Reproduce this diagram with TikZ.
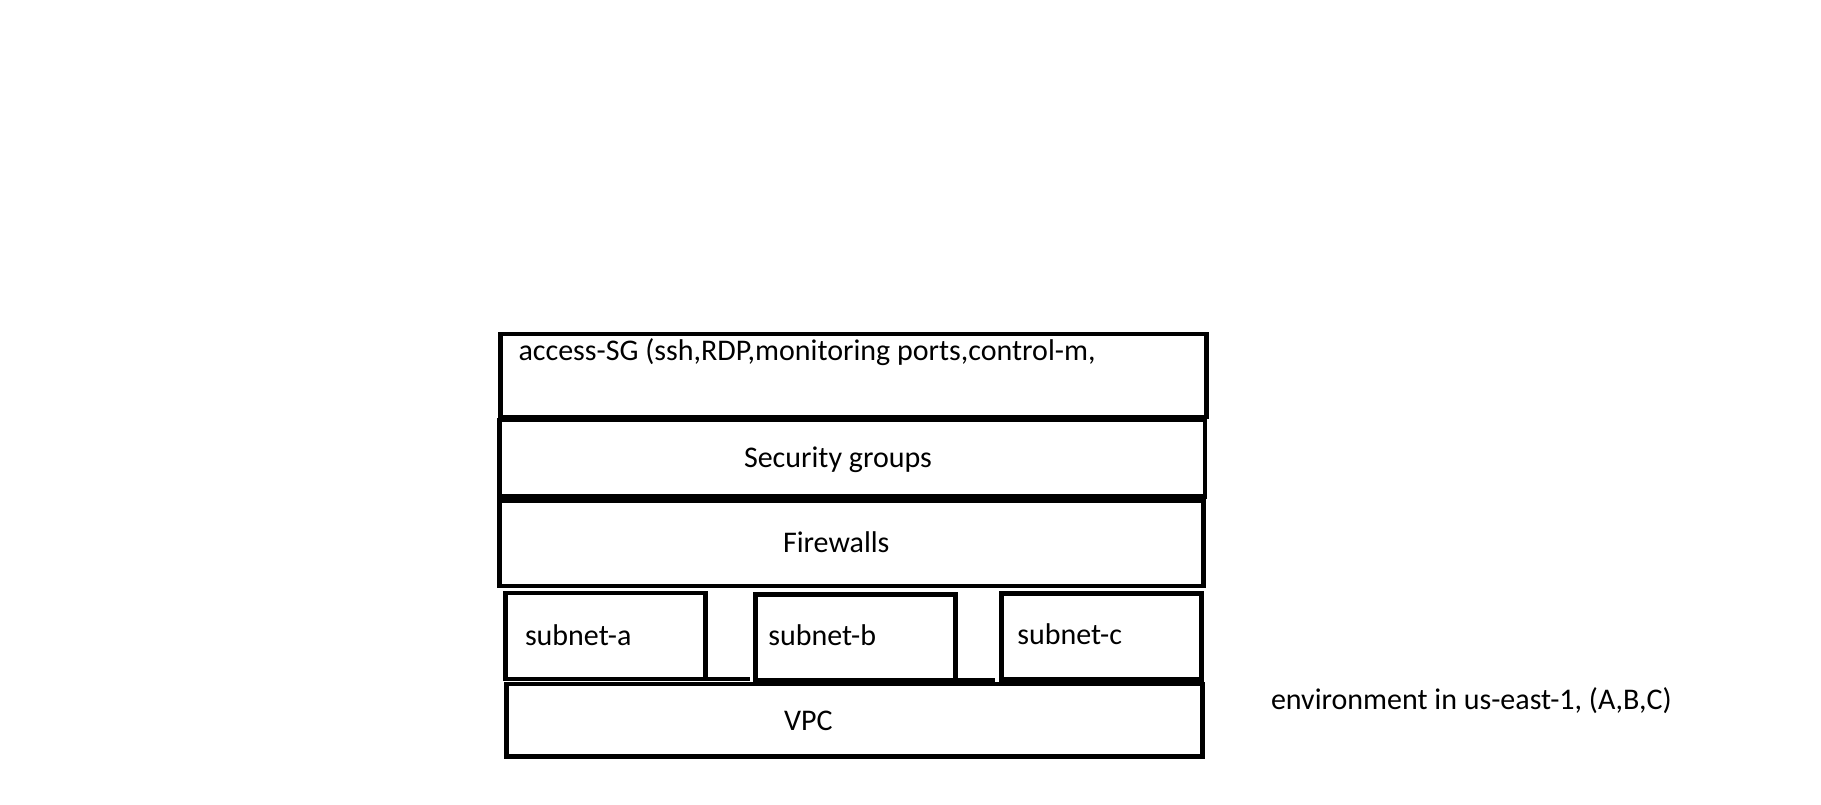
\documentclass[tikz,border=0pt]{standalone}
\usepackage{fontspec}
\setmainfont{Carlito}
\begin{document}
\begin{tikzpicture}[x=0.75pt,y=-0.75pt,
  box/.style={draw=black, line width=3.7pt, inner sep=0pt, outer sep=0pt, anchor=north west, line join=miter},
  lbl/.style={anchor=base west, inner sep=0pt, outer sep=0pt, font=\fontsize{22.5pt}{27pt}\selectfont},
  link/.style={draw=black, line width=3pt}]
\useasboundingbox (0,0) rectangle (1821,805);
\fill[white] (0,0) rectangle (1821,805);
% boxes
\node[box, minimum width=529.5pt, minimum height=62.25pt] (acc) at (500.5,334) {};
\node[box, minimum width=529.1pt, minimum height=57.4pt] (sg) at (499.5,420) {};
\node[box, minimum width=528pt, minimum height=64.1pt] (fw) at (499.7,500.5) {};
\node[box, minimum width=150pt, minimum height=64.5pt] (sa) at (505.7,593) {};
\node[box, minimum width=150pt, minimum height=64pt] (sb) at (755.7,594.7) {};
\node[box, minimum width=149.6pt, minimum height=64.3pt] (sc) at (1001.8,593.3) {};
\node[box, minimum width=522pt, minimum height=54.4pt] (vpc) at (506.3,684) {};
% short links between subnets
\draw[link, shorten >=4pt] (sa.south east) -- (sa.south east -| sb.west);
\draw[link, shorten >=5pt] (sb.south east) -- (sb.south east -| sc.west);
% labels
\node[lbl] (tacc) at (518.5,360.7) {access-SG (ssh,RDP,monitoring ports,control-m,};
\node[lbl] (tsg) at (744,467.5) {Security groups};
\node[lbl] (tfw) at (783,552) {Firewalls};
\node[lbl] (ta) at (525,645.7) {subnet-a};
\node[lbl] (tb) at (768.3,645) {subnet-b};
\node[lbl] (tc) at (1017.3,644) {subnet-c};
\node[lbl] (tvpc) at (784,730) {VPC};
\node[lbl] (tenv) at (1271,709.5) {environment in us-east-1, (A,B,C)};
\end{tikzpicture}
\end{document}
